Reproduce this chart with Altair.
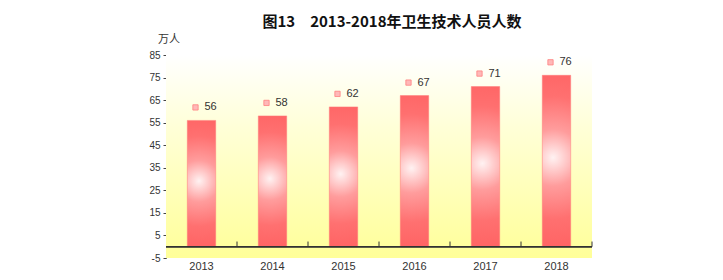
import altair as alt
import pandas as pd

years = ["2013", "2014", "2015", "2016", "2017", "2018"]
values = [56, 58, 62, 67, 71, 76]
y_ticks = [-5, 5, 15, 25, 35, 45, 55, 65, 75, 85]
title_text = "图13　2013-2018年卫生技术人员人数"
unit_text = "万人"

df = pd.DataFrame({"year": years, "value": values})

W, H = 426, 203
FONT = "Liberation Sans"
CJK = "Noto Sans CJK SC"

x_scale = alt.Scale(paddingInner=0.6, paddingOuter=0.3)
y_scale = alt.Scale(domain=[-5, 85], nice=False, zero=False)

x_axis = alt.Axis(title=None, domain=False, ticks=False, labelAngle=0,
                  labelFont=FONT, labelFontSize=11, labelColor="#333",
                  labelPadding=2)
y_axis = alt.Axis(title=None, values=y_ticks, tickCount=len(y_ticks), grid=False,
                  labelOverlap=False, labelExpr="'' + datum.value",
                  domainColor="#444", tickColor="#444", tickSize=3,
                  labelFont=FONT, labelFontSize=10, labelColor="#333",
                  labelPadding=3)
x_enc = alt.X("year:N", scale=x_scale, sort=years, axis=x_axis)
y_enc = alt.Y("value:Q", scale=y_scale, axis=y_axis)

base = alt.Chart(df)

bg = alt.Chart(alt.Data(values=[{}])).mark_rect(
    fill=alt.Gradient(gradient="linear", x1=0, y1=0, x2=0, y2=1,
                      stops=[alt.GradientStop(color="#FFFFFF", offset=0),
                             alt.GradientStop(color="#FFFFD8", offset=0.35),
                             alt.GradientStop(color="#FFFF99", offset=1)])
).encode(x=alt.value(0), x2=alt.value(W), y=alt.value(0), y2=alt.value(H))

bars = base.mark_bar(
    fill=alt.Gradient(gradient="radial", x1=0.48, y1=0.48, r1=0, x2=0.48, y2=0.48, r2=0.55,
                      stops=[alt.GradientStop(color="#FFF2F2", offset=0),
                             alt.GradientStop(color="#FF9C9C", offset=0.3),
                             alt.GradientStop(color="#FF7070", offset=0.65),
                             alt.GradientStop(color="#FF6262", offset=1)]),
    stroke="#FF7A7A", strokeWidth=0.5
).encode(x=x_enc, y=y_enc, y2=alt.datum(0))

zero = base.mark_rule(color="#333", strokeWidth=1).encode(y=alt.datum(0))

ticks = base.mark_rule(color="#333", strokeWidth=1, xOffset=35.5).encode(
    x=x_enc, y=alt.datum(0), y2=alt.datum(2.3))

markers = base.mark_square(size=28, xOffset=-6, yOffset=-13, fill="#FFB8B8",
                           stroke="#FF8080", strokeWidth=0.8, opacity=1).encode(
    x=x_enc, y=y_enc)

labels = base.mark_text(xOffset=9, yOffset=-13, font=FONT, fontSize=11,
                        color="#333", align="center", baseline="middle").encode(
    x=x_enc, y=y_enc, text="value:Q")

title = alt.Chart(alt.Data(values=[{"t": title_text}])).mark_text(
    font=CJK, fontSize=15, fontWeight="bold", color="#111", align="center",
    baseline="middle").encode(x=alt.value(226), y=alt.value(-33), text="t:N")

unit = alt.Chart(alt.Data(values=[{"t": unit_text}])).mark_text(
    font=CJK, fontSize=11, color="#333", align="center",
    baseline="middle").encode(x=alt.value(3), y=alt.value(-15), text="t:N")

chart = alt.layer(bg, bars, zero, ticks, markers, labels, title, unit).properties(
    width=W, height=H,
    autosize=alt.AutoSizeParams(type="none"),
    padding={"left": 166, "top": 55, "right": 131, "bottom": 22},
    background="white"
).configure_view(stroke=None)

chart.save("out.html", embed_options={"renderer": "svg", "actions": False})
